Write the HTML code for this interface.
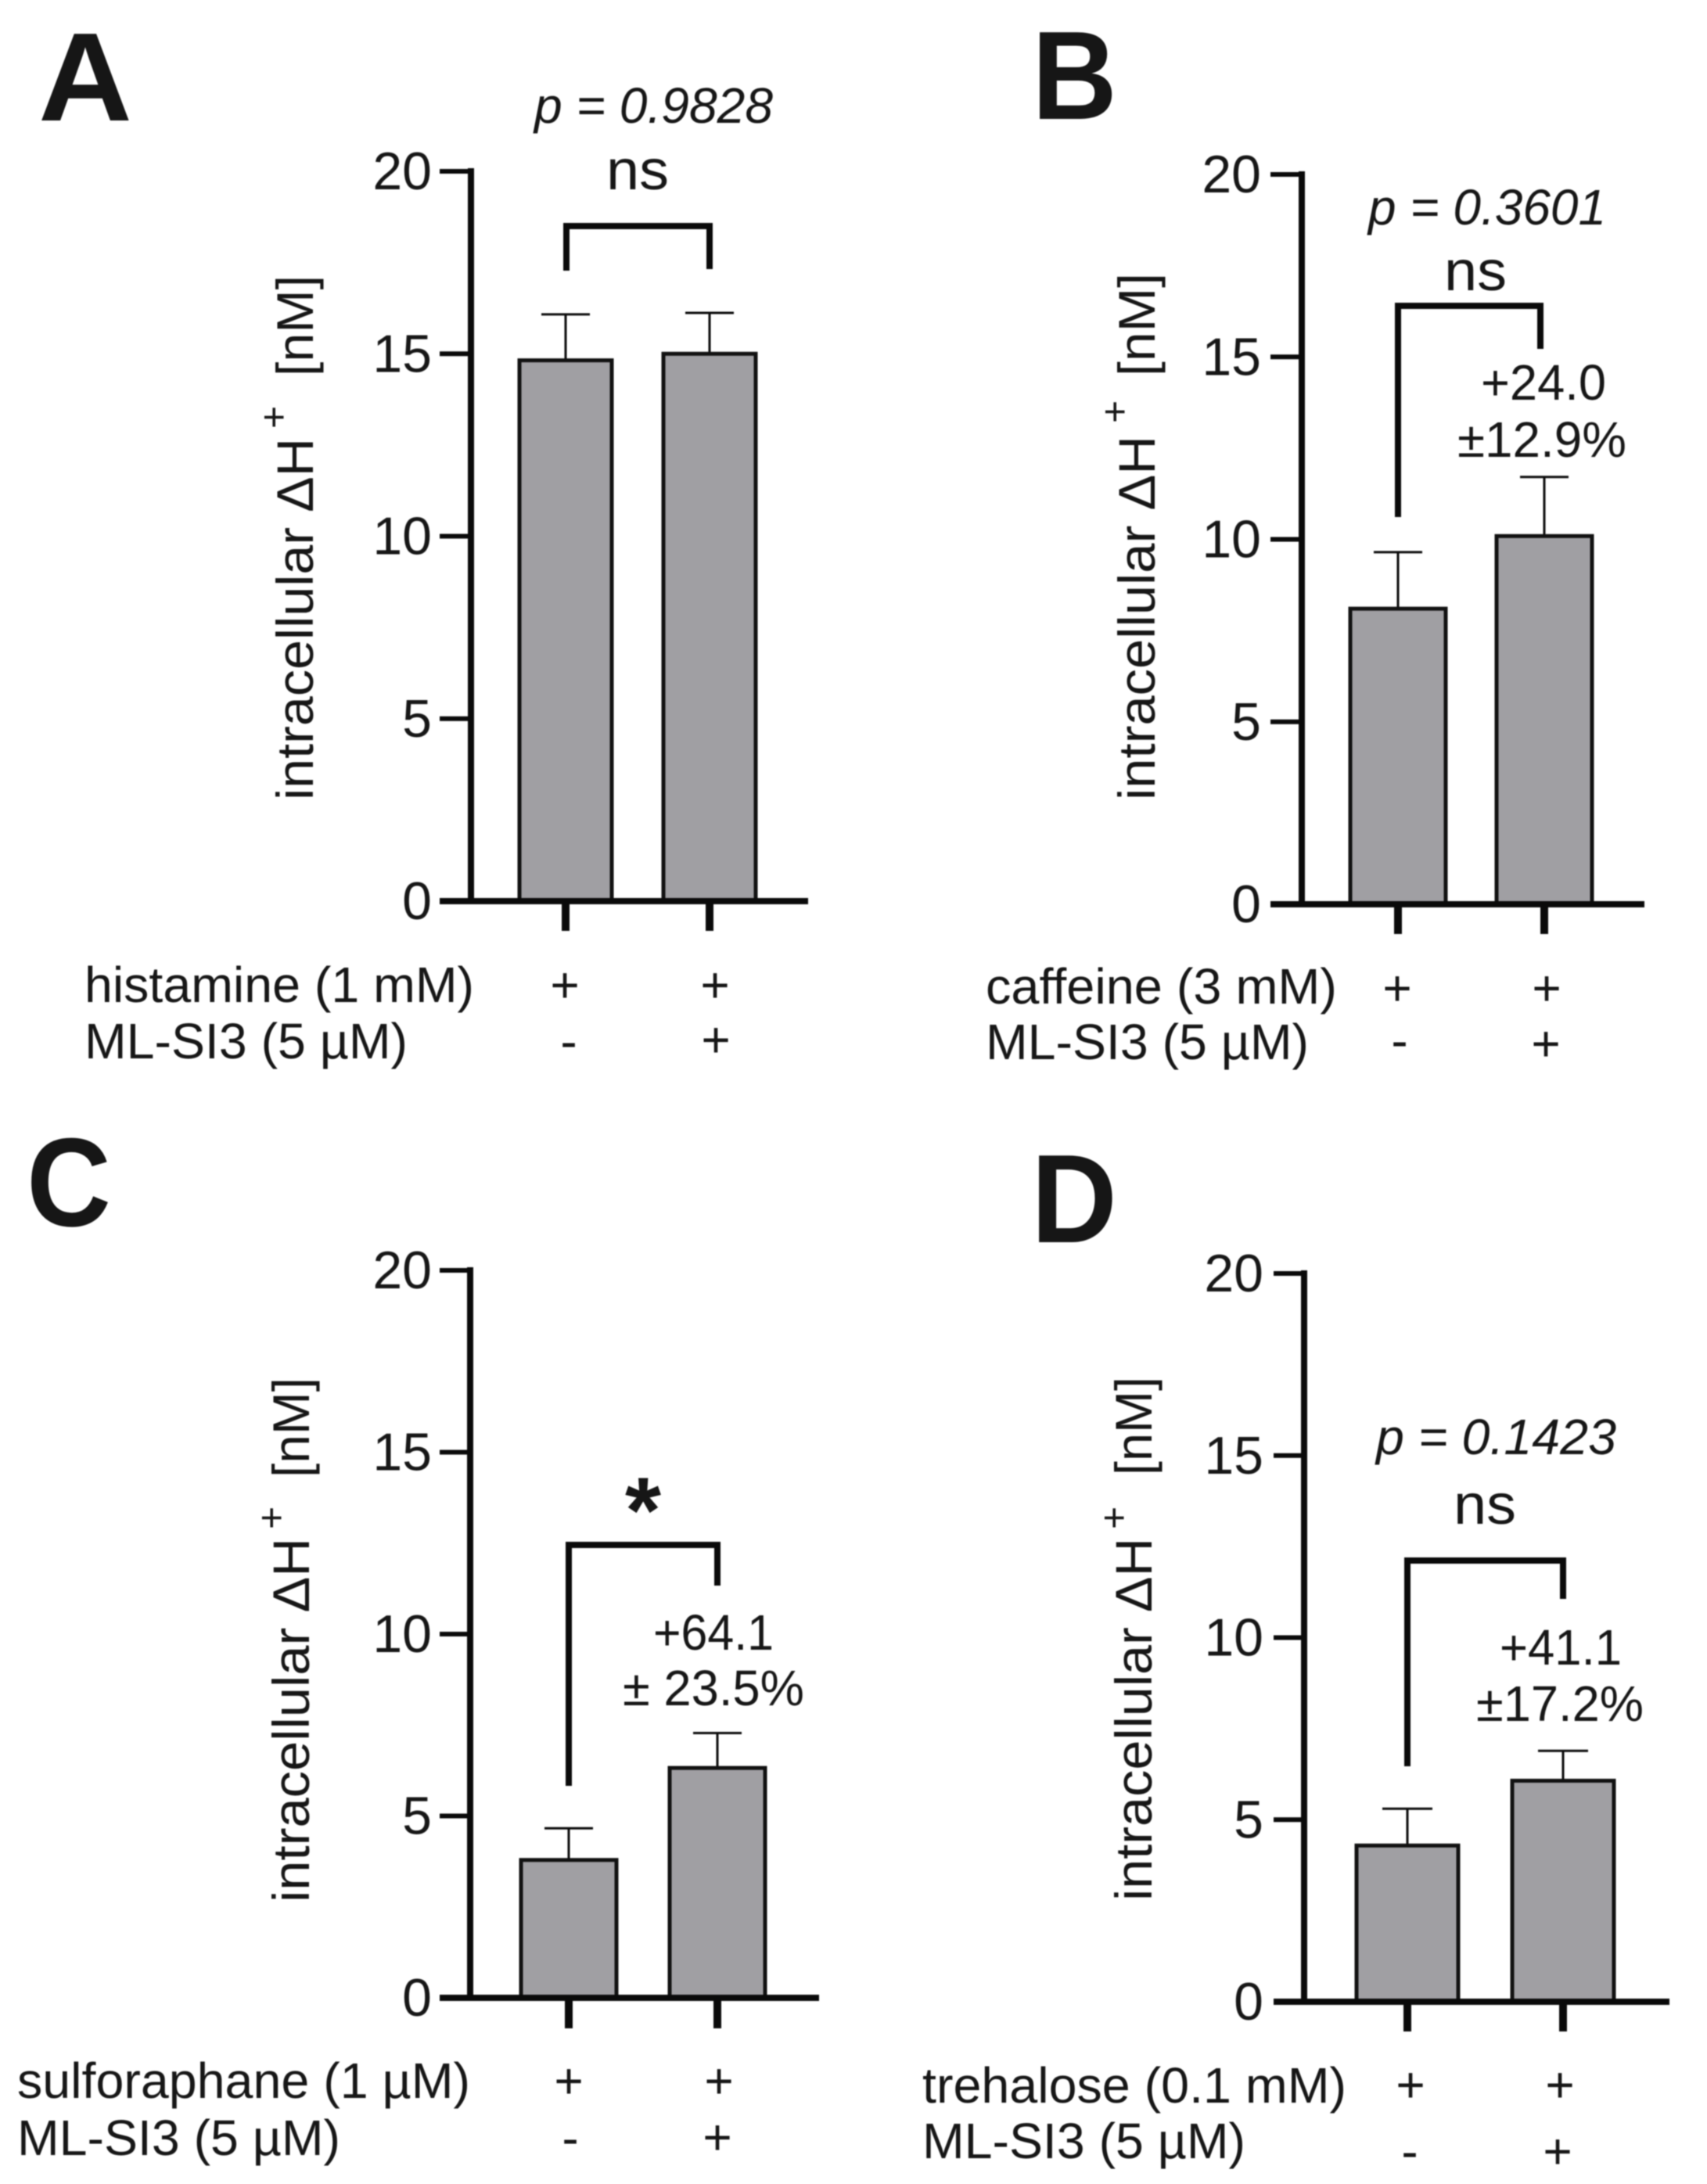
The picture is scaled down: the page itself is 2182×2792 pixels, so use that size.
<!DOCTYPE html>
<html lang="en">
<head>
<meta charset="utf-8">
<title>Intracellular H+ bar charts</title>
<style>
html,body{margin:0;padding:0;background:#fff;}
#fig{display:block;width:2182px;height:2792px;filter:blur(0.9px);}
text{font-family:"Liberation Sans",Arial,sans-serif;fill:#161616;}
</style>
</head>
<body>
<svg id="fig" xmlns="http://www.w3.org/2000/svg" width="2182" height="2792" viewBox="0 0 2182 2792"></svg>
<script>
const yTickValues = [0, 5, 10, 15, 20];
const yMax = 20;
const meansA = [14.82, 15.0];
const errorsA = [1.26, 1.12];
const meansB = [8.1, 10.09];
const errorsB = [1.55, 1.62];
const meansC = [3.79, 6.32];
const errorsC = [0.87, 0.96];
const meansD = [4.29, 6.07];
const errorsD = [1.01, 0.82];
const rowSigns1 = ['+', '+'];
const rowSigns2 = ['-', '+'];

const layouts = [
 {id:'a', letter:['A',49,154,120], means:meansA, errors:errorsA,
  axisX:602, y20:219, y0:1152, tickLeft:562, xRight:1033, centers:[723,907], halfBar:59, capHalf:31, tickBottom:1190, tickRight:552,
  bracket:[724,346,289,907,344],
  sig:[['p = 0.9828',683,157,305,'p'],['ns',775,242,80,'ns']], change:[],
  rot:{x:400,start:1023,len:463,plusX:367,plusY:534,nmStart:481,nmLen:129},
  row1:['histamine (1 mM)',108,1281,498], row2:['ML-SI3 (5 µM)',108,1353,413],
  row1X:[722,914], row1Y:1259, row2X:[727,915], row2Y:[1335,1329]},
 {id:'b', letter:['B',1319,152,109], means:meansB, errors:errorsB,
  axisX:1664, y20:223, y0:1156, tickLeft:1624, xRight:2102, centers:[1787,1974], halfBar:61, capHalf:31, tickBottom:1194, tickRight:1612,
  bracket:[1787,661,391,1969,446],
  sig:[['p = 0.3601',1749,287,304,'p'],['ns',1846,371,80,'ns']],
  change:[['+24.0',1893,511,160],['±12.9%',1863,584,216]],
  rot:{x:1476,start:1023,len:466,plusX:1442,plusY:527,nmStart:481,nmLen:132},
  row1:['caffeine (3 mM)',1260,1283,449], row2:['ML-SI3 (5 µM)',1260,1354,413],
  row1X:[1786,1977], row1Y:1263, row2X:[1789,1976], row2Y:[1334,1334]},
 {id:'c', letter:['C',34,1567,108], means:meansC, errors:errorsC,
  axisX:601, y20:1624, y0:2554, tickLeft:562, xRight:1047, centers:[727,917], halfBar:61, capHalf:31, tickBottom:2593, tickRight:552,
  bracket:[727,2283,1975,917,2027],
  sig:[['*',799,1972,46,'star']],
  change:[['+64.1',835,2109,154],['± 23.5%',796,2180,232]],
  rot:{x:395,start:2432,len:466,plusX:364,plusY:1941,nmStart:1889,nmLen:128},
  row1:['sulforaphane (1 µM)',22,2682,579], row2:['ML-SI3 (5 µM)',22,2755,413],
  row1X:[727,919], row1Y:2660, row2X:[729,917], row2Y:[2737,2732]},
 {id:'d', letter:['D',1318,1588,110], means:meansD, errors:errorsD,
  axisX:1667, y20:1628, y0:2559, tickLeft:1628, xRight:2134, centers:[1799,1998], halfBar:65, capHalf:32, tickBottom:2597, tickRight:1615,
  bracket:[1799,2258,1995,1998,2044],
  sig:[['p = 0.1423',1759,1859,307,'p'],['ns',1858,1948,80,'ns']],
  change:[['+41.1',1917,2128,156],['±17.2%',1887,2200,214]],
  rot:{x:1472,start:2430,len:464,plusX:1441,plusY:1941,nmStart:1886,nmLen:126},
  row1:['trehalose (0.1 mM)',1179,2688,542], row2:['ML-SI3 (5 µM)',1179,2759,413],
  row1X:[1803,1994], row1Y:2665, row2X:[1802,1991], row2Y:[2754,2750]}
];

const svg = document.getElementById('fig');
const NS = 'http://www.w3.org/2000/svg';

function line(parent, x1, y1, x2, y2, w, name) {
  const el = document.createElementNS(NS, 'line');
  el.setAttribute('x1', x1);
  el.setAttribute('y1', y1);
  el.setAttribute('x2', x2);
  el.setAttribute('y2', y2);
  el.setAttribute('stroke', '#0a0a0a');
  el.setAttribute('stroke-width', w);
  
  
  parent.appendChild(el);
  return el;
}

function label(parent, str, x, y, size, opts, name) {
  opts = opts || {};
  const el = document.createElementNS(NS, 'text');
  el.textContent = str;
  el.setAttribute('font-size', size);
  if (opts.rotate) {
    el.setAttribute('transform', 'translate(' + x + ',' + y + ') rotate(-90)');
  } else {
    el.setAttribute('x', x);
    el.setAttribute('y', y);
  }
  if (opts.anchor) el.setAttribute('text-anchor', opts.anchor);
  if (opts.weight) el.setAttribute('font-weight', opts.weight);
  if (opts.italic) el.setAttribute('font-style', 'italic');
  if (opts.len) {
    el.setAttribute('textLength', opts.len);
    el.setAttribute('lengthAdjust', 'spacingAndGlyphs');
  }
  
  
  parent.appendChild(el);
  return el;
}

layouts.forEach(function (p) {
  const g = document.createElementNS(NS, 'g');
  
  
  svg.appendChild(g);

  const yScale = function (v) { return p.y0 - (v / yMax) * (p.y0 - p.y20); };
  const xBand = function (i) { return p.centers[i]; };

  label(g, p.letter[0], p.letter[1], p.letter[2], 161, {weight: 'bold', len: p.letter[3]}, 'panel-letter-' + p.id);

  // bars and error bars
  p.means.forEach(function (m, i) {
    const cx = xBand(i);
    const top = yScale(m + p.errors[i]);
    line(g, cx, yScale(m), cx, top, 3, 'error-bar-stem-' + p.id + (i + 1));
    line(g, cx - p.capHalf, top, cx + p.capHalf, top, 3, 'error-bar-cap-' + p.id + (i + 1));
    const bar = document.createElementNS(NS, 'rect');
    bar.setAttribute('x', cx - p.halfBar);
    bar.setAttribute('y', yScale(m));
    bar.setAttribute('width', p.halfBar * 2);
    bar.setAttribute('height', yScale(0) - yScale(m));
    bar.setAttribute('fill', '#a09fa3');
    bar.setAttribute('stroke', '#111');
    bar.setAttribute('stroke-width', 5);
    
    
    g.appendChild(bar);
  });

  // axes
  line(g, p.axisX, p.y20 - 4, p.axisX, p.y0 + 4, 8, 'y-axis-line-' + p.id);
  line(g, p.tickLeft, p.y0, p.xRight, p.y0, 8, 'x-axis-line-' + p.id);
  yTickValues.forEach(function (v) {
    const y = yScale(v);
    if (v !== 0) line(g, p.tickLeft, y, p.axisX, y, 6, 'y-tick-' + p.id + '-' + v);
    label(g, String(v), p.tickRight, y + 23, 68, {anchor: 'end'}, 'y-tick-label-' + p.id + '-' + v);
  });
  p.centers.forEach(function (c, i) {
    line(g, c, p.y0, c, p.tickBottom, 10, 'x-tick-' + p.id + (i + 1));
  });

  // rotated y axis title
  const r = p.rot;
  label(g, 'intracellular ΔH', r.x, r.start, 66, {rotate: true, len: r.len}, 'y-axis-title-' + p.id);
  label(g, '+', r.plusX, r.plusY + 14, 50, {rotate: true}, 'y-axis-title-superscript-' + p.id);
  label(g, '[nM]', r.x, r.nmStart, 66, {rotate: true, len: r.nmLen}, 'y-axis-title-unit-' + p.id);

  // significance bracket
  const b = p.bracket;
  const br = document.createElementNS(NS, 'polyline');
  br.setAttribute('points', b[0] + ',' + b[1] + ' ' + b[0] + ',' + b[2] + ' ' + b[3] + ',' + b[2] + ' ' + b[3] + ',' + b[4]);
  br.setAttribute('fill', 'none');
  br.setAttribute('stroke', '#0a0a0a');
  br.setAttribute('stroke-width', 8);
  
  
  g.appendChild(br);

  // significance text
  p.sig.forEach(function (s) {
    if (s[4] === 'p') {
      label(g, s[0], s[1], s[2], 64, {italic: true, len: s[3]}, 'p-value-' + p.id);
    } else if (s[4] === 'ns') {
      label(g, s[0], s[1], s[2], 72, {len: s[3]}, 'significance-ns-' + p.id);
    } else {
      label(g, s[0], s[1], s[2], 120, {weight: 'bold', len: s[3]}, 'significance-star-' + p.id);
    }
  });

  // percent change annotation
  p.change.forEach(function (c, i) {
    label(g, c[0], c[1], c[2], 64, {len: c[3]}, 'percent-change-' + p.id + '-line-' + (i + 1));
  });

  // treatment rows
  label(g, p.row1[0], p.row1[1], p.row1[2], 64, {len: p.row1[3]}, 'treatment-label-' + p.id);
  label(g, p.row2[0], p.row2[1], p.row2[2], 64, {len: p.row2[3]}, 'inhibitor-label-' + p.id);
  rowSigns1.forEach(function (sign, i) {
    label(g, sign, p.row1X[i], p.row1Y + 22, 64, {anchor: 'middle'}, 'treatment-sign-' + p.id + (i + 1));
  });
  rowSigns2.forEach(function (sign, i) {
    const off = sign === '+' ? 22 : 18;
    label(g, sign, p.row2X[i], p.row2Y[i] + off, 64, {anchor: 'middle'}, 'inhibitor-sign-' + p.id + (i + 1));
  });
});
</script>
</body>
</html>
